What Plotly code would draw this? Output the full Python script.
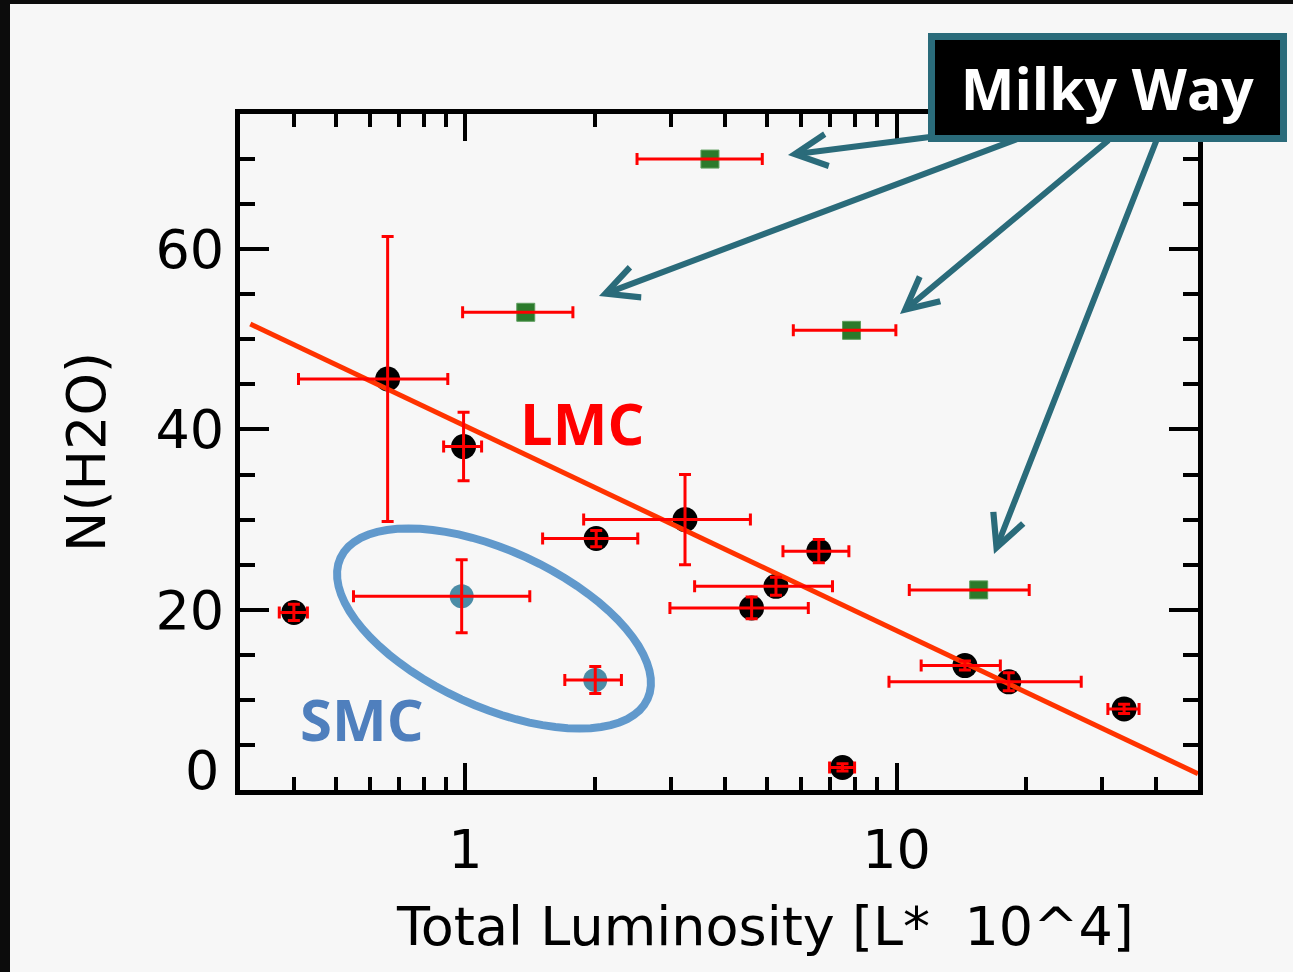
import math
import plotly.graph_objects as go

# Figure geometry (pixels)
W, H = 1293, 972
ML, MR, MT, MB = 240, 95, 114, 182
PW, PH = W - ML - MR, H - MT - MB


def paper(xp, yp):
    """Convert a page pixel position into paper coordinates."""
    return (xp - ML) / PW, (H - MB - yp) / PH


# LMC sources: total luminosity [L* 10^4] and N(H2O) with 1-sigma errors
lmc_lum = [0.40, 0.66, 0.99, 2.01, 3.23, 4.61, 5.25, 6.60, 7.49, 14.4, 18.2, 33.7]
lmc_n = [19.7, 45.6, 38.1, 27.9, 30.0, 20.2, 22.6, 26.5, 2.5, 13.8, 12.0, 9.0]
lmc_lum_err = [0.03, 0.25, 0.10, 0.50, 1.35, 1.63, 1.85, 1.15, 0.50, 3.0, 8.6, 2.8]
lmc_n_err = [0.9, 15.8, 3.8, 0.9, 5.0, 1.2, 1.0, 1.3, 0.4, 0.5, 1.0, 0.5]

# SMC sources
smc_lum = [0.98, 2.00]
smc_n = [21.5, 12.2]
smc_lum_err = [0.43, 0.30]
smc_n_err = [4.05, 1.5]

# Galactic (Milky Way) sources
mw_lum = [3.69, 1.38, 7.86, 15.5]
mw_n = [70.0, 53.0, 51.0, 22.2]
mw_lum_err = [1.19, 0.395, 2.1, 4.8]

# LMC linear fit in log(L)
fit_lum = [0.317, 50.0]
fit_n = [51.7, 1.8]

# axis ticks
y_tickvals = [0, 20, 40, 60]
y_ticktext = ["", "20", "40", "60"]   # the "0" is placed separately, lifted off the corner

RED = "#ff0000"
FIT = "#ff3300"
TEAL = "#2a6b7a"
GREEN = "#2b7a2b"
SMC_DOT = "#4b8ca6"
SMC_RING = "#6199cc"
SMC_TEXT = "#4f7fbd"
BG = "#f7f7f7"

fig = go.Figure()

# markers first
fig.add_trace(go.Scatter(x=lmc_lum, y=lmc_n, mode="markers",
                         marker=dict(symbol="circle", size=25, color="black"),
                         name="LMC", hoverinfo="x+y"))
fig.add_trace(go.Scatter(x=smc_lum, y=smc_n, mode="markers",
                         marker=dict(symbol="circle", size=24, color=SMC_DOT),
                         name="SMC", hoverinfo="x+y"))
fig.add_trace(go.Scatter(x=mw_lum, y=mw_n, mode="markers",
                         marker=dict(symbol="square", size=18, color=GREEN,
                                     line=dict(width=1, color="#5f9f5f")),
                         name="Milky Way", hoverinfo="x+y"))

# fit line
fig.add_trace(go.Scatter(x=fit_lum, y=fit_n, mode="lines",
                         line=dict(color=FIT, width=5), name="fit",
                         hoverinfo="skip"))

# error bars drawn on top of the symbols
eb = dict(type="data", color=RED, thickness=3, width=6)
fig.add_trace(go.Scatter(x=lmc_lum, y=lmc_n, mode="markers",
                         marker=dict(size=1, opacity=0),
                         error_x=dict(array=lmc_lum_err, **eb),
                         error_y=dict(array=lmc_n_err, **eb),
                         hoverinfo="skip"))
fig.add_trace(go.Scatter(x=smc_lum, y=smc_n, mode="markers",
                         marker=dict(size=1, opacity=0),
                         error_x=dict(array=smc_lum_err, **eb),
                         error_y=dict(array=smc_n_err, **eb),
                         hoverinfo="skip"))
fig.add_trace(go.Scatter(x=mw_lum, y=mw_n, mode="markers",
                         marker=dict(size=1, opacity=0),
                         error_x=dict(array=mw_lum_err, **eb),
                         hoverinfo="skip"))

shapes = []
# dark slide frame at top and left
x0, y0 = paper(0, 0)
x1, y1 = paper(10, H)
shapes.append(dict(type="rect", xref="paper", yref="paper", x0=x0, y0=y0, x1=x1, y1=y1,
                   line=dict(width=0), fillcolor="#0c0c0c", layer="below"))
x0, y0 = paper(0, 0)
x1, y1 = paper(W, 4)
shapes.append(dict(type="rect", xref="paper", yref="paper", x0=x0, y0=y0, x1=x1, y1=y1,
                   line=dict(width=0), fillcolor="#0c0c0c", layer="below"))

# ring around the SMC sources (tilted ellipse)
cx, cy, a, b, th = 494, 628.5, 169, 78, math.radians(24.7)
pts = []
for k in range(73):
    t = 2 * math.pi * k / 72
    xp = cx + a * math.cos(t) * math.cos(th) - b * math.sin(t) * math.sin(th)
    yp = cy + a * math.cos(t) * math.sin(th) + b * math.sin(t) * math.cos(th)
    pts.append(paper(xp, yp))
path = "M " + " L ".join(f"{u:.5f},{v:.5f}" for u, v in pts) + " Z"
shapes.append(dict(type="path", xref="paper", yref="paper", path=path,
                   line=dict(color=SMC_RING, width=8), layer="above"))

axis_font = dict(family="DejaVu Sans", size=54, color="black")

annotations = []
# arrows from the Milky Way label to the Galactic sources
arrows = [((1000, 128), (788, 155)),
          ((1020, 138), (599, 296)),
          ((1110, 139), (900, 314)),
          ((1157, 139), (994, 554))]
for (tx, ty), (hx, hy) in arrows:
    px_, py_ = paper(hx, hy)
    annotations.append(dict(x=px_, y=py_, xref="paper", yref="paper", text="",
                            showarrow=True, arrowhead=5, arrowsize=1.05,
                            arrowwidth=6, arrowcolor=TEAL,
                            ax=tx - hx, ay=ty - hy, axref="pixel", ayref="pixel"))

bx, by = paper(1107.5, 87.5)
annotations.append(dict(x=bx, y=by, xref="paper", yref="paper", text="<b>Milky Way</b>",
                        showarrow=False, xanchor="center", yanchor="middle",
                        font=dict(family="Open Sans", size=57, color="white"),
                        bgcolor="black", bordercolor=TEAL, borderwidth=7, borderpad=0,
                        width=345, height=95))

lx, ly = paper(581.7, 423)
annotations.append(dict(x=lx, y=ly, xref="paper", yref="paper", text="<b>LMC</b>",
                        showarrow=False, xanchor="center", yanchor="middle",
                        font=dict(family="Open Sans", size=58, color=RED)))
sx, sy = paper(362, 718)
annotations.append(dict(x=sx, y=sy, xref="paper", yref="paper", text="<b>SMC</b>",
                        showarrow=False, xanchor="center", yanchor="middle",
                        font=dict(family="Open Sans", size=58, color=SMC_TEXT)))

# "0" label of the y axis, raised slightly above the corner
zx, zy = paper(221, 770)
annotations.append(dict(x=zx, y=zy, xref="paper", yref="paper", text="0",
                        showarrow=False, xanchor="right", yanchor="middle",
                        font=axis_font))

# x-axis title
tx_, ty_ = paper(765, 926)
annotations.append(dict(x=tx_, y=ty_, xref="paper", yref="paper",
                        text="Total Luminosity [L*  10^4]",
                        showarrow=False, xanchor="center", yanchor="middle",
                        font=axis_font))

fig.update_layout(
    width=W, height=H,
    margin=dict(l=ML, r=MR, t=MT, b=MB, pad=0),
    paper_bgcolor=BG, plot_bgcolor=BG,
    showlegend=False,
    shapes=shapes,
    annotations=annotations,
    xaxis=dict(
        type="log", range=[math.log10(0.3), math.log10(50)],
        tickmode="linear", tick0=0, dtick=1,
        ticks="inside", ticklen=27, tickwidth=4, tickcolor="black",
        showline=True, linecolor="black", linewidth=5, mirror="allticks",
        showgrid=False, zeroline=False,
        tickfont=axis_font, ticklabelstandoff=8,
        minor=dict(ticks="inside", ticklen=13, tickwidth=4, tickcolor="black",
                   dtick="D1", showgrid=False),
    ),
    yaxis=dict(
        range=[0, 75],
        tickmode="array", tickvals=y_tickvals, ticktext=y_ticktext,
        ticks="inside", ticklen=29, tickwidth=4, tickcolor="black",
        showline=True, linecolor="black", linewidth=5, mirror="allticks",
        showgrid=False, zeroline=False,
        tickfont=axis_font,
        minor=dict(ticks="inside", ticklen=15, tickwidth=4, tickcolor="black",
                   dtick=5, showgrid=False),
        title=dict(text="N(H2O)", font=axis_font, standoff=34),
    ),
)

fig.write_html("out.html")
